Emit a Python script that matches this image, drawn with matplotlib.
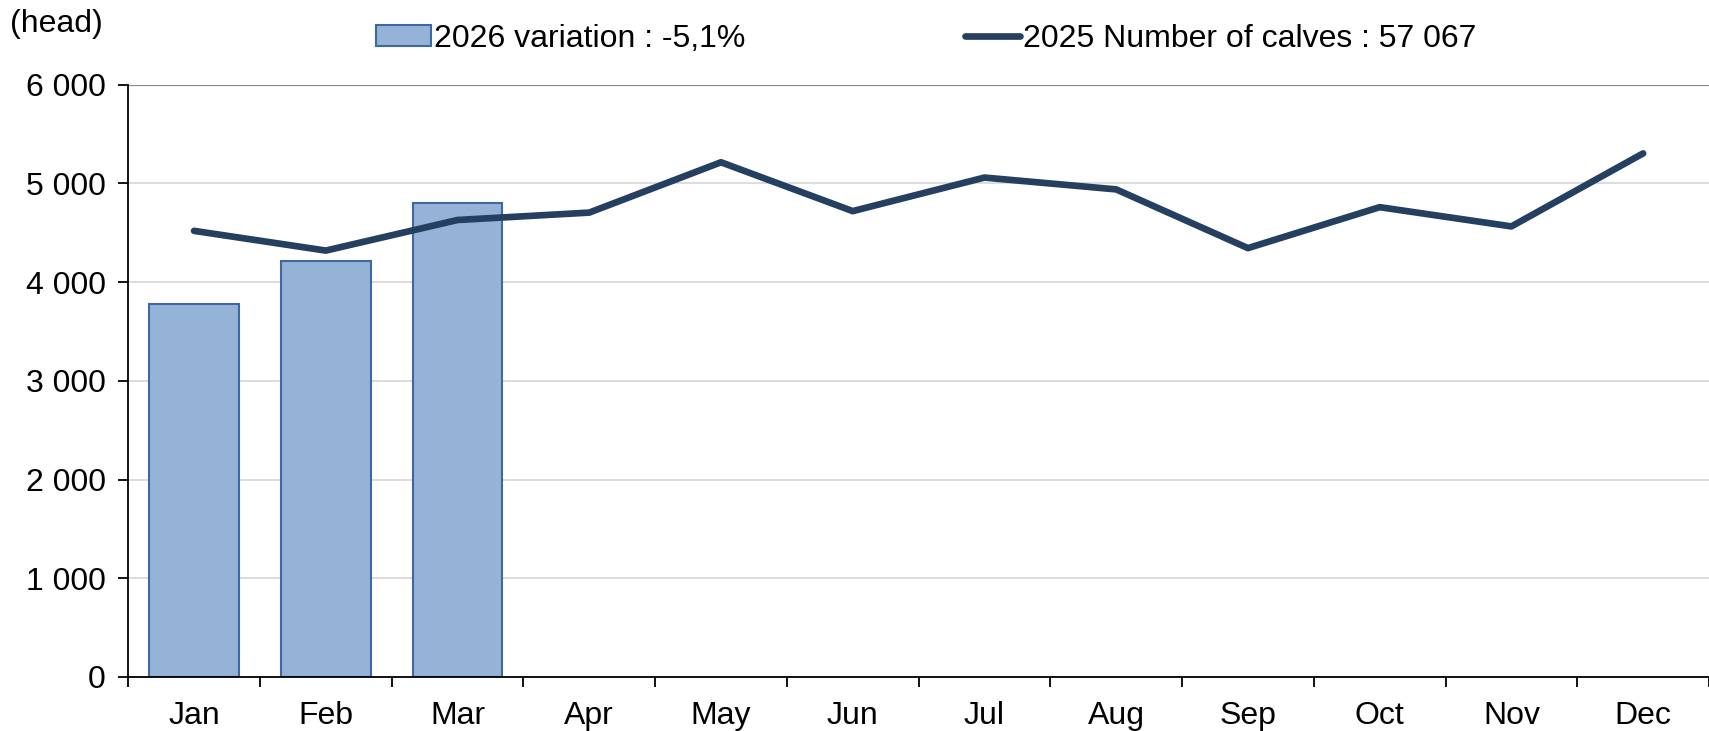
import matplotlib.pyplot as plt
import numpy as np

plt.rcParams['font.family'] = ['Liberation Sans', 'DejaVu Sans']

months = ['Jan', 'Feb', 'Mar', 'Apr', 'May', 'Jun', 'Jul', 'Aug', 'Sep', 'Oct', 'Nov', 'Dec']
calves_2026 = [3780, 4210, 4805]
calves_2025 = [4520, 4320, 4630, 4705, 5215, 4720, 5060, 4940, 4345, 4760, 4565, 5305]
yticks = [0, 1000, 2000, 3000, 4000, 5000, 6000]

fig = plt.figure(figsize=(17.09, 7.31), dpi=100)
ax = fig.add_axes([0.075, 0.074, 0.925, 0.81])

x = np.arange(len(months))
bars = ax.bar(x[:len(calves_2026)], calves_2026, width=0.68, color='#95B3D7',
              edgecolor='#3F67A0', linewidth=1.5, label='2026 variation : -5,1%', zorder=2)
line, = ax.plot(x, calves_2025, color='#243F60', linewidth=4.8, solid_capstyle='round',
                label='2025 Number of calves : 57 067', zorder=3)

ax.set_xlim(-0.5, len(months) - 0.5)
ax.set_ylim(0, 6000)
ax.set_yticks(yticks)
ax.set_yticklabels([f'{v:,}'.replace(',', ' ') for v in yticks], fontsize=23)
ax.set_xticks(x)
ax.set_xticklabels(months, fontsize=23)
ax.tick_params(axis='x', which='major', length=0, pad=17)
ax.set_xticks(np.arange(-0.5, len(months)), minor=True)
ax.tick_params(axis='x', which='minor', length=7, width=1.3, direction='out')
ax.tick_params(axis='y', length=7, width=1.3, direction='out', pad=9)

ax.grid(axis='y', color='#D9D9D9', linewidth=1.3, zorder=0)
ax.set_axisbelow(True)
for s in ['top', 'right']:
    ax.spines[s].set_visible(False)
for s in ['left', 'bottom']:
    ax.spines[s].set_linewidth(1.3)
ax.axhline(6000, color='#8C8C8C', linewidth=1.6, zorder=1)

fig.text(0.006, 0.967, '(head)', fontsize=23, va='center', ha='left')
fig.legend([bars, line], [bars.get_label(), line.get_label()],
           loc='center', bbox_to_anchor=(0.542, 0.947), ncol=2, frameon=False,
           fontsize=23, handlelength=1.7, handleheight=0.65, handletextpad=0.1,
           columnspacing=6.9)

fig.savefig('out.png', dpi=100)
